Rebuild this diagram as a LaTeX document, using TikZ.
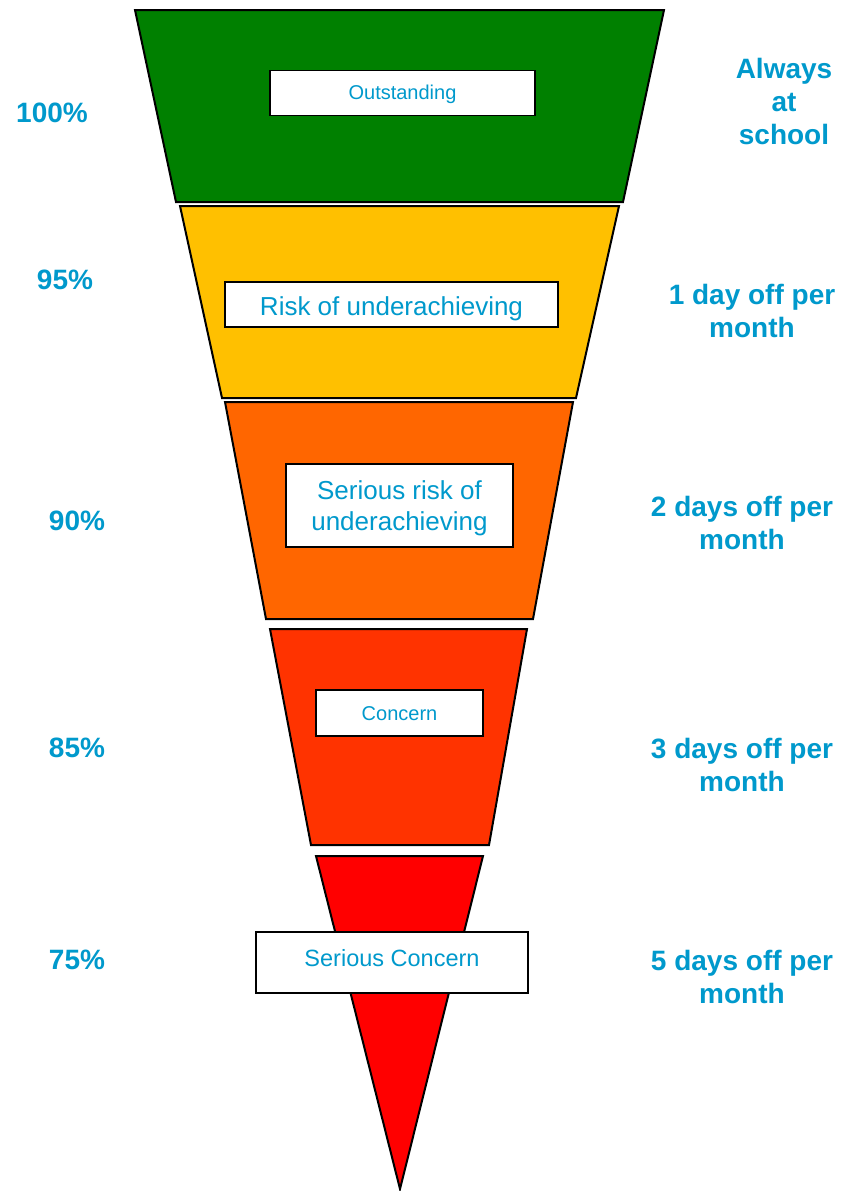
\documentclass[tikz,border=0pt]{standalone}
\usepackage{fontspec}
\setmainfont{Liberation Sans}
\definecolor{lbl}{HTML}{0099CC}
\definecolor{bgreen}{HTML}{008000}
\definecolor{byellow}{HTML}{FFC000}
\definecolor{borange}{HTML}{FF6600}
\definecolor{bredor}{HTML}{FF3300}
\definecolor{bred}{HTML}{FF0000}
\begin{document}
\begin{tikzpicture}[x=1pt,y=-1pt,
  band/.style={draw=black, line width=2pt, line join=miter},
  wbox/.style={draw=black, fill=white, line width=1.6pt, inner sep=0pt},
  btext/.style={text=lbl, inner sep=0pt, align=center},
  side/.style={text=lbl, font=\bfseries\fontsize{28}{33}\selectfont, align=center, inner sep=0pt}
]
\useasboundingbox (0,0) rectangle (851,1191);
% bands
\path[band, fill=bgreen] (135,10) -- (664,10) -- (623,202) -- (176,202) -- cycle;
\path[band, fill=byellow] (180,206) -- (619,206) -- (576,398) -- (222,398) -- cycle;
\path[band, fill=borange] (225,402) -- (573,402) -- (533,619) -- (266,619) -- cycle;
\path[band, fill=bredor] (270,629) -- (527,629) -- (489,845) -- (311,845) -- cycle;
\path[band, fill=bred] (316,856) -- (483,856) -- (400,1189) -- cycle;
% white boxes
\node[wbox, minimum width=265pt, minimum height=45pt] (b1) at (402.5,93) {};
\node[btext, anchor=base, font=\fontsize{20}{24}\selectfont] (b1t) at (402.5,99.3) {Outstanding};
\node[wbox, minimum width=333pt, minimum height=45pt] (b2) at (391.5,304.5) {};
\node[btext, anchor=base, font=\fontsize{26}{31}\selectfont] (b2t) at (391.5,315.7) {Risk of underachieving};
\node[wbox, minimum width=227pt, minimum height=83pt] (b3) at (399.5,505.3) {};
\node[btext, font=\fontsize{26}{30.7}\selectfont] (b3t) at (399.5,508) {Serious risk of\\underachieving};
\node[wbox, minimum width=167pt, minimum height=46pt] (b4) at (399.5,713) {};
\node[btext, anchor=base, font=\fontsize{20}{24}\selectfont] (b4t) at (399.5,720) {Concern};
\node[wbox, minimum width=272pt, minimum height=61pt] (b5) at (392,962.5) {};
\node[btext, anchor=base, font=\fontsize{23.5}{28}\selectfont] (b5t) at (392,966) {Serious Concern};
% left labels
\node[side] (l1) at (52,113) {100\%};
\node[side] (l2) at (65,280) {95\%};
\node[side] (l3) at (77,521) {90\%};
\node[side] (l4) at (77,748) {85\%};
\node[side] (l5) at (77,960) {75\%};
% right labels
\node[side] (r1) at (784,101) {Always\\at\\school};
\node[side] (r2) at (752,311) {1 day off per\\month};
\node[side] (r3) at (742,523) {2 days off per\\month};
\node[side] (r4) at (742,764.5) {3 days off per\\month};
\node[side] (r5) at (742,976.5) {5 days off per\\month};
\end{tikzpicture}
\end{document}
